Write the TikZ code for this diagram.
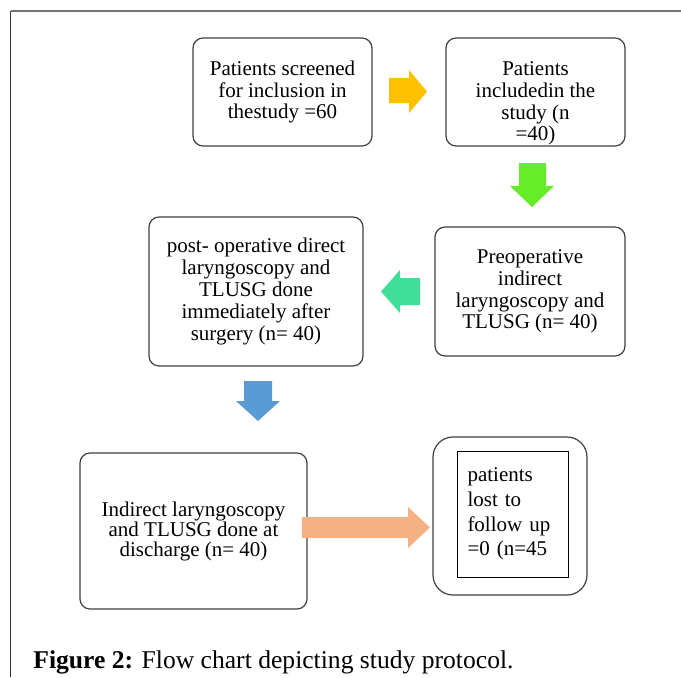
\documentclass[tikz,border=0pt]{standalone}
\usepackage{fontspec}
\setmainfont{Liberation Serif}
\usepackage{tikz}

\definecolor{arrowyellow}{RGB}{255,192,0}
\definecolor{arrowgreen}{RGB}{102,236,40}
\definecolor{arrowteal}{RGB}{64,222,152}
\definecolor{arrowblue}{RGB}{91,155,213}
\definecolor{arroworange}{RGB}{244,177,131}

\begin{document}
\begin{tikzpicture}[x=0.5pt,y=-0.5pt,
	flowbox/.style={draw=black!75,line width=0.6pt,rounded corners=5pt,align=center,inner sep=2pt,font=\fontsize{10.5}{10.9}\selectfont}]
	\useasboundingbox (0,0) rectangle (681,677);

	%FRAME
	\draw[black!55,line width=1pt] (10.5,11)--(681,11);
	\draw[black!80,line width=0.8pt] (10.5,11)--(10.5,677);

	%BOXES
	\node[flowbox,minimum width=89.5pt,minimum height=54pt] (screen) at (282.5,92) {Patients screened\\for inclusion in\\thestudy =60};
	\node[flowbox,minimum width=89.5pt,minimum height=54pt] (incl) at (535.5,92) {};
	\node[align=center,font=\fontsize{10.5}{10.9}\selectfont] (incltext) at (535.5,103.5) {Patients\\includedin the\\study (n\\=40)};
	\node[flowbox,minimum width=95pt,minimum height=64.5pt] (preop) at (530,291.5) {Preoperative\\indirect\\laryngoscopy and\\TLUSG (n= 40)};
	\node[flowbox,minimum width=107pt,minimum height=74.5pt] (postop) at (256,291.5) {post- operative direct\\laryngoscopy and\\TLUSG done\\immediately after\\surgery (n= 40)};
	\node[flowbox,minimum width=113.5pt,minimum height=78pt,font=\fontsize{10.5}{10}\selectfont] (disch) at (193.5,531) {Indirect laryngoscopy\\and TLUSG done at\\discharge (n= 40)};
	\node[flowbox,rounded corners=10pt,minimum width=77pt,minimum height=79pt] (lost) at (510,516) {};
	\node[draw=black,line width=0.5pt,align=left,text width=45pt,inner xsep=5.25pt,minimum height=63pt,font=\fontsize{10.5}{12.3}\selectfont] (losttext) at (512.5,514) {patients\\lost to\\follow up\\=0 (n=45};

	%ARROWS
	\fill[arrowyellow] (389,78)--(409,78)--(409,70)--(427,91.5)--(409,113)--(409,103)--(389,103)--cycle;
	\fill[arrowgreen] (519,163)--(546,163)--(546,186)--(554,186)--(532,207)--(510,186)--(519,186)--cycle;
	\fill[arrowteal] (420,278)--(400,278)--(400,270)--(381,291.5)--(400,313)--(400,305)--(420,305)--cycle;
	\fill[arrowblue] (244,381)--(272,381)--(272,401)--(280,401)--(258,421)--(236,401)--(244,401)--cycle;
	\fill[arroworange] (302,517)--(408,517)--(408,507)--(430,527.5)--(408,548)--(408,538)--(302,538)--cycle;

	%CAPTION
	\node[anchor=base west,inner sep=0,font=\fontsize{12.8}{14}\selectfont] (caption) at (33,668) {\textbf{Figure 2:} Flow chart depicting study protocol.};
\end{tikzpicture}
\end{document}
